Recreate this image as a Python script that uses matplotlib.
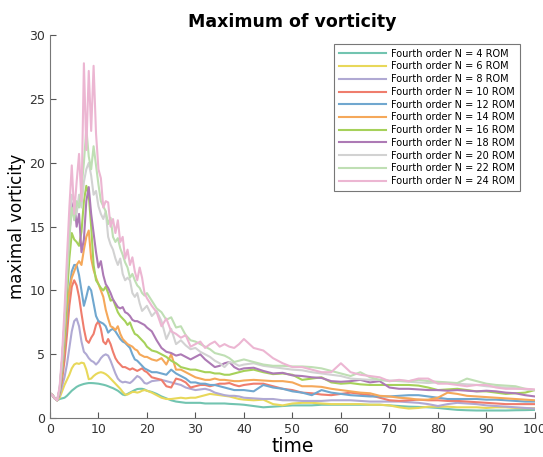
import numpy as np
import matplotlib
matplotlib.use('Agg')
import matplotlib.pyplot as plt

# time grid: fine at the start, coarser later
t = ([i * 0.5 for i in range(41)] + list(range(21, 41)) + list(range(42, 101, 2)))

n4 = [1.95, 1.8, 1.55, 1.4, 1.5, 1.55, 1.6, 1.75, 1.95, 2.15, 2.3, 2.45, 2.55, 2.62, 2.68, 2.72, 2.75, 2.75, 2.74, 2.72,
      2.7, 2.66, 2.62, 2.57, 2.5, 2.42, 2.35, 2.25, 2.15, 2.0, 1.85, 1.8, 1.9, 2.0, 2.1, 2.2, 2.28, 2.3, 2.3, 2.25, 2.15,
      2.05, 1.9, 1.7, 1.55, 1.4, 1.3, 1.25, 1.2, 1.2, 1.2, 1.2, 1.15, 1.15, 1.15, 1.15, 1.15, 1.12, 1.1, 1.08, 1.05,
      0.95, 0.85, 0.9, 0.95, 1.0, 1.0, 1.0, 1.05, 1.05, 1.05, 1.05, 1.05, 1.05, 1.05, 1.0, 0.95, 0.9, 0.88, 0.85, 0.8,
      0.72, 0.65, 0.62, 0.6, 0.6, 0.6, 0.6, 0.62, 0.63, 0.65]
n6 = [1.95, 1.8, 1.55, 1.4, 1.6, 2.1, 2.6, 3.0, 3.4, 3.9, 4.2, 4.3, 4.25, 4.35, 4.3, 3.8, 3.05, 3.1, 3.3, 3.45,
      3.55, 3.6, 3.55, 3.45, 3.3, 3.1, 2.9, 2.7, 2.5, 2.3, 2.05, 1.85, 1.85, 1.95, 2.05, 2.05, 2.0, 2.05, 2.15, 2.2, 2.15,
      2.0, 1.8, 1.6, 1.5, 1.5, 1.55, 1.6, 1.55, 1.6, 1.6, 1.7, 1.8, 1.9, 1.85, 1.8, 1.75, 1.7, 1.6, 1.5, 1.45,
      1.4, 1.45, 1.1, 1.0, 1.15, 1.2, 1.2, 1.15, 1.1, 1.1, 1.1, 1.1, 1.05, 1.05, 1.0, 0.85, 0.75, 0.8, 0.9, 0.9,
      0.9, 0.85, 0.85, 0.85, 0.8, 0.85, 0.85, 0.8, 0.78, 0.78]
n8 = [1.95, 1.8, 1.55, 1.4, 1.8, 2.5, 3.2, 4.2, 5.5, 6.8, 7.6, 7.8, 7.2, 6.0, 5.2, 5.0, 4.7, 4.5, 4.4, 4.2,
      4.4, 4.7, 4.9, 5.0, 4.9, 4.5, 4.0, 3.5, 3.1, 2.9, 2.8, 2.85, 2.8, 2.75, 2.9, 3.1, 3.3, 3.2, 3.0, 2.75, 2.7,
      2.9, 2.95, 3.0, 2.9, 2.8, 2.7, 2.6, 2.4, 2.3, 2.2, 2.25, 2.3, 2.2, 2.0, 1.9, 1.8, 1.75, 1.75, 1.7, 1.6,
      1.55, 1.5, 1.5, 1.4, 1.4, 1.35, 1.35, 1.35, 1.4, 1.4, 1.4, 1.35, 1.3, 1.3, 1.3, 1.3, 1.25, 1.2, 1.1, 0.95,
      1.1, 1.2, 1.15, 1.1, 1.0, 0.95, 0.9, 0.85, 0.8, 0.75]
n10 = [1.95, 1.8, 1.55, 1.4, 2.0, 3.0, 4.5, 6.5, 8.8, 10.3, 10.8, 10.4, 9.5, 8.2, 7.0, 6.1, 5.9, 6.3, 6.6, 7.3,
       7.6, 7.0, 6.0, 5.8, 6.2, 5.8, 5.2, 4.7, 4.4, 4.2, 4.0, 4.0, 3.9, 3.8, 3.9, 3.8, 3.7, 3.8, 3.9, 3.7, 3.6,
       3.2, 3.1, 3.0, 2.5, 2.4, 3.1, 3.0, 2.8, 2.4, 2.5, 2.6, 2.6, 2.5, 2.6, 2.7, 2.7, 2.75, 2.6, 2.5, 2.6,
       2.7, 2.7, 2.5, 2.3, 2.2, 2.0, 1.95, 1.85, 1.8, 1.9, 2.0, 1.9, 1.8, 1.6, 1.4, 1.35, 1.4, 1.45, 1.4, 1.4,
       1.35, 1.35, 1.3, 1.25, 1.2, 1.15, 1.1, 1.1, 1.1, 1.1]
n12 = [1.95, 1.8, 1.55, 1.4, 2.1, 3.5, 5.5, 8.0, 10.0, 11.5, 12.0, 12.0, 11.2, 10.0, 8.8, 9.5, 10.3, 10.0, 9.0, 8.0,
       7.6, 7.5, 7.4, 7.2, 6.7, 6.9, 7.0, 6.8, 6.5, 6.2, 6.0, 5.9, 5.7, 5.5, 5.0, 4.6, 4.5, 4.3, 4.1, 3.9, 3.8,
       3.6, 3.6, 3.5, 3.4, 3.8, 3.5, 3.3, 3.1, 2.8, 2.8, 2.7, 2.7, 2.6, 2.6, 2.5, 2.4, 2.3, 2.2, 2.2, 2.2,
       2.1, 2.6, 2.4, 2.3, 2.1, 2.0, 1.8, 2.2, 2.0, 1.9, 1.8, 1.75, 1.7, 1.7, 1.7, 1.75, 1.8, 1.8, 1.7, 1.6,
       1.5, 1.5, 1.5, 1.5, 1.45, 1.45, 1.4, 1.35, 1.3, 1.3]
n14 = [1.95, 1.8, 1.55, 1.4, 2.2, 3.6, 5.8, 8.5, 10.0, 11.0, 11.5, 12.0, 12.3, 12.0, 13.2, 14.2, 14.7, 12.5, 11.6, 11.0,
       10.5, 10.0, 9.5, 8.5, 7.8, 7.2, 7.1, 6.9, 7.2, 6.6, 6.2, 6.0, 5.8, 5.7, 5.6, 5.4, 5.3, 5.0, 4.9, 4.8, 4.8,
       4.6, 4.5, 4.7, 4.2, 5.0, 3.8, 3.8, 3.6, 3.4, 3.2, 3.1, 3.0, 3.0, 3.1, 3.0, 3.0, 2.95, 2.9, 2.9, 2.95,
       3.0, 2.95, 2.9, 2.9, 2.8, 2.5, 2.5, 2.45, 2.3, 2.2, 2.1, 2.0, 1.95, 1.75, 1.7, 1.6, 1.55, 1.45, 1.45, 1.6,
       2.0, 1.9, 1.75, 1.7, 1.65, 1.6, 1.55, 1.5, 1.45, 1.4]
n16 = [1.95, 1.8, 1.55, 1.4, 2.2, 4.0, 6.5, 9.5, 12.5, 14.5, 14.0, 13.8, 13.5, 14.6, 17.0, 18.2, 17.5, 15.0, 12.0, 10.8,
       10.5, 10.2, 10.0, 10.3, 9.8, 9.2, 9.3, 8.8, 8.3, 8.0, 7.8, 7.6, 7.3, 7.5, 7.0, 6.6, 6.5, 6.3, 6.1, 5.9, 5.6,
       5.3, 5.2, 5.0, 4.8, 4.5, 4.3, 4.0, 3.9, 3.8, 3.8, 3.7, 3.6, 3.6, 3.5, 3.5, 3.4, 3.4, 3.5, 3.6, 3.7,
       3.8, 3.6, 3.45, 3.5, 3.4, 3.0, 3.1, 3.2, 2.8, 2.7, 2.75, 2.65, 2.6, 2.6, 2.6, 2.6, 2.6, 2.55, 2.4, 2.2,
       2.25, 2.3, 2.2, 2.1, 2.1, 2.0, 1.9, 1.95, 2.0, 2.2]
n18 = [1.95, 1.8, 1.55, 1.4, 2.3, 4.5, 7.5, 11.0, 14.5, 16.5, 17.0, 15.0, 16.0, 13.0, 14.0, 17.0, 18.1, 16.0, 14.5, 13.0,
       11.8, 12.3, 11.2, 10.5, 10.2, 9.8, 9.3, 9.0, 8.7, 8.6, 8.7, 8.3, 8.2, 8.0, 7.7, 7.6, 7.6, 7.5, 7.4, 7.3, 7.1,
       6.8, 6.1, 5.5, 5.2, 5.1, 4.9, 5.0, 4.8, 4.6, 4.8, 5.0, 4.6, 4.3, 4.0, 4.1, 4.3, 4.4, 4.0, 3.8, 3.9,
       3.95, 3.7, 3.5, 3.55, 3.35, 3.3, 3.2, 3.15, 2.9, 2.85, 2.9, 3.0, 2.8, 2.9, 2.4, 2.3, 2.3, 2.25, 2.2, 2.2,
       2.15, 2.2, 2.15, 2.1, 2.15, 2.1, 2.0, 1.95, 1.8, 1.7]
n20 = [1.95, 1.8, 1.55, 1.4, 2.3, 4.5, 7.5, 11.5, 15.0, 17.5, 17.0, 16.0, 17.5, 16.5, 18.5, 19.5, 20.0, 19.0, 17.5, 17.8,
       16.6, 16.0, 15.6, 16.2, 14.2, 13.6, 13.2, 12.5, 12.0, 12.5, 11.3, 10.8, 11.0, 10.8, 9.8, 9.5, 9.8, 9.0, 8.4, 8.6, 8.8,
       8.0, 8.4, 7.6, 6.2, 7.0, 5.8, 6.1, 5.7, 5.4, 5.5, 5.2, 5.0, 4.8, 4.5, 4.3, 4.0, 4.4, 4.3, 4.1, 4.2,
       4.3, 4.1, 4.0, 3.9, 3.8, 3.75, 3.6, 3.5, 3.4, 3.3, 3.1, 3.05, 3.0, 3.0, 2.95, 2.9, 2.85, 2.8, 2.75, 2.8,
       2.75, 2.7, 2.65, 2.6, 2.5, 2.45, 2.4, 2.35, 2.25, 2.2]
n22 = [1.95, 1.8, 1.55, 1.4, 2.3, 4.5, 7.5, 11.0, 14.0, 16.5, 15.5, 17.0, 16.5, 18.0, 20.0, 22.7, 20.5, 19.5, 21.3, 19.8,
       18.3, 17.0, 16.6, 16.2, 15.2, 15.7, 14.2, 13.8, 14.1, 13.3, 12.8, 12.2, 11.8, 11.0, 11.3, 10.8, 10.4, 10.2, 9.8, 9.6, 9.8,
       9.2, 8.6, 8.3, 7.7, 7.9, 7.1, 7.2, 6.5, 6.1, 6.0, 5.8, 5.6, 5.4, 5.1, 5.0, 4.9, 4.7, 4.4, 4.5, 4.6,
       4.4, 4.2, 4.1, 4.1, 4.05, 4.05, 4.0, 3.9, 3.7, 3.5, 3.3, 3.6, 3.2, 3.0, 2.9, 2.95, 2.9, 3.0, 2.9, 2.85,
       2.8, 2.75, 3.1, 2.9, 2.7, 2.6, 2.55, 2.5, 2.3, 2.2]
n24 = [1.95, 1.8, 1.55, 1.4, 2.5, 5.0, 8.5, 12.5, 16.5, 19.8, 16.0, 18.5, 20.7, 17.0, 27.8, 21.0, 27.2, 22.5, 27.6, 22.3,
       19.5, 18.8, 16.5, 17.0, 16.9, 15.0, 15.6, 14.5, 15.5, 13.8, 14.2, 12.5, 13.2, 12.0, 12.6, 11.5, 10.8, 11.8, 11.0, 9.8, 9.4,
       8.8, 8.3, 7.2, 7.8, 6.8, 6.6, 6.3, 6.5, 5.6, 5.8, 6.0, 5.5, 5.8, 6.0, 5.6, 5.8, 5.6, 5.5, 5.8, 6.2,
       5.5, 5.3, 4.7, 4.3, 4.0, 4.0, 3.8, 3.6, 3.6, 4.3, 3.6, 3.4, 3.3, 3.2, 2.9, 3.0, 2.9, 3.1, 3.1, 2.7,
       2.7, 2.6, 2.5, 2.6, 2.6, 2.4, 2.3, 2.3, 2.3, 2.25]

orders = [4, 6, 8, 10, 12, 14, 16, 18, 20, 22, 24]
series = [n4, n6, n8, n10, n12, n14, n16, n18, n20, n22, n24]
colors = ['#72c4b0', '#e8d85a', '#b0a9d3', '#ef7d6d', '#70a7cf', '#f5a85a',
          '#a6d15a', '#ad7ab5', '#d2d2d2', '#bfdfb4', '#ecb6d2']

fig = plt.figure(figsize=(5.43, 4.57), dpi=100)
ax = fig.add_axes([0.092, 0.085, 0.893, 0.838])

for n, y, c in zip(orders, series, colors):
    ax.plot(t, y, color=c, lw=1.5, label='Fourth order N = %d ROM' % n)

ax.set_xlim(0, 100)
ax.set_ylim(0, 30)
ax.set_xticks(range(0, 101, 10))
ax.set_yticks(range(0, 31, 5))
ax.tick_params(direction='in', length=4, labelsize=9, colors='#555555', labelcolor='#333333')
for s in ['top', 'right']:
    ax.spines[s].set_visible(False)
for s in ['left', 'bottom']:
    ax.spines[s].set_color('#777777')

ax.set_title('Maximum of vorticity', fontsize=12.5, fontweight='bold')
ax.set_xlabel('time', fontsize=13.5, labelpad=1)
ax.set_ylabel('maximal vorticity', fontsize=12, labelpad=2)

leg = ax.legend(loc='upper right', bbox_to_anchor=(0.98, 0.99), fontsize=7, labelspacing=0.28,
                handlelength=4.8, handletextpad=0.6, borderpad=0.5, fancybox=False, framealpha=1)
leg.get_frame().set_edgecolor('#777777')
leg.get_frame().set_linewidth(0.8)

fig.savefig('out.png', dpi=100)
